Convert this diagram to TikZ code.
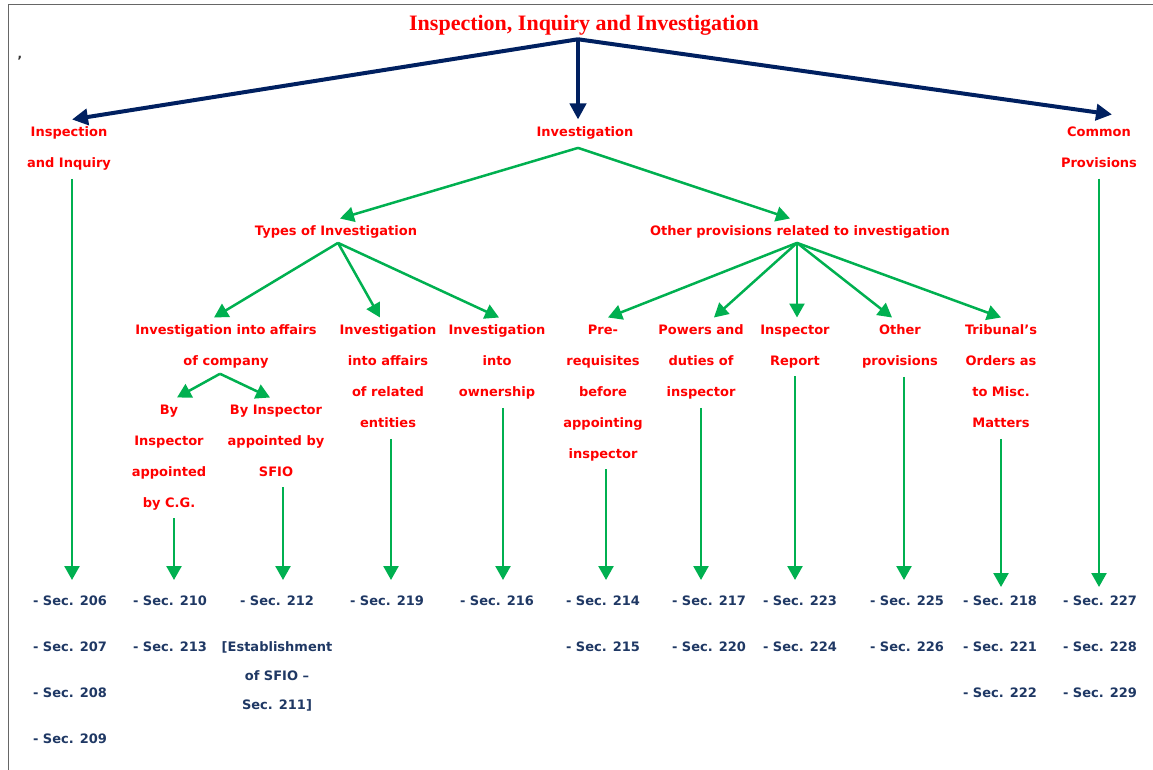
\documentclass[tikz,border=0pt]{standalone}
\usepackage{fontspec}
\setmainfont{DejaVu Sans}
\newfontfamily\titlefont{Liberation Serif}
\usetikzlibrary{arrows.meta}
\definecolor{lred}{HTML}{FF0000}
\definecolor{lgreen}{HTML}{00B050}
\definecolor{lnavy}{HTML}{002060}
\definecolor{secblue}{HTML}{1F3864}
\newcommand{\lstrut}{\rule[-4pt]{0pt}{14pt}}
\begin{document}
\begin{tikzpicture}[x=1pt,y=-1pt,
  lbl/.style={anchor=north, align=center, text=lred, font=\fontsize{13}{31}\selectfont\bfseries, inner xsep=1pt, inner ysep=7pt, execute at begin node=\lstrut, execute at end node=\lstrut},
  sec/.style={anchor=north, align=center, text=secblue, font=\fontsize{13}{46}\selectfont\bfseries, inner xsep=1pt, inner ysep=15.5pt},
  garrow/.style={draw=lgreen, line width=2.5pt, -{Triangle[length=14pt,width=15pt]}},
  narrowx/.style={draw=lnavy, line width=4pt, -{Triangle[length=16pt,width=16pt]}},
  framel/.style={draw=black!60, line width=1pt}]
\useasboundingbox (0,0) rectangle (1153,770);
\draw[framel] (8,770) -- (8,5) -- (1153,5);
\node[font=\fontsize{12}{12}\selectfont\bfseries, text=black!80, inner sep=0] (comma) at (20,58) {,};

% title
\node[font=\titlefont\fontsize{22}{26}\selectfont\bfseries, text=lred, inner sep=0] (title) at (584,25) {Inspection, Inquiry and Investigation};
\coordinate (hub) at ([xshift=-6pt,yshift=-4pt]title.south);

% level 1
\node[lbl] (insp) at (69,119.5) {Inspection\\and Inquiry};
\node[lbl] (inv) at (585,119.5) {Investigation};
\node[lbl] (common) at (1099,119.5) {Common\\Provisions};

% level 2
\node[lbl] (types) at (336,218.5) {Types of Investigation};
\node[lbl] (other) at (800,218.5) {Other provisions related to investigation};

% level 3
\node[lbl] (company) at (226,317.5) {Investigation into affairs\\of company};
\node[lbl] (entities) at (388,317.5) {Investigation\\into affairs\\of related\\entities};
\node[lbl] (owner) at (497,317.5) {Investigation\\into\\ownership};
\node[lbl] (prereq) at (603,317.5) {Pre-\\requisites\\before\\appointing\\inspector};
\node[lbl] (powers) at (701,317.5) {Powers and\\duties of\\inspector};
\node[lbl] (report) at (795,317.5) {Inspector\\Report};
\node[lbl] (otherprov) at (900,317.5) {Other\\provisions};
\node[lbl] (tribunal) at (1001,317.5) {Tribunal’s\\Orders as\\to Misc.\\Matters};

% level 4
\node[lbl] (cg) at (169,397.5) {By\\Inspector\\appointed\\by C.G.};
\node[lbl] (sfio) at (276,397.5) {By Inspector\\appointed by\\SFIO};

% sections
\node[sec] (s1) at (70,580) {- Sec. 206\\- Sec. 207\\- Sec. 208\\- Sec. 209};
\node[sec] (s2) at (170,580) {- Sec. 210\\- Sec. 213};
\node[sec] (s3) at (277,580) {- Sec. 212\\{[}Establishment\\[-17pt]of SFIO –\\[-17pt]Sec. 211]};
\node[sec] (s4) at (387,580) {- Sec. 219};
\node[sec] (s5) at (497,580) {- Sec. 216};
\node[sec] (s6) at (603,580) {- Sec. 214\\- Sec. 215};
\node[sec] (s7) at (709,580) {- Sec. 217\\- Sec. 220};
\node[sec] (s8) at (800,580) {- Sec. 223\\- Sec. 224};
\node[sec] (s9) at (907,580) {- Sec. 225\\- Sec. 226};
\node[sec] (s10) at (1000,580) {- Sec. 218\\- Sec. 221\\- Sec. 222};
\node[sec] (s11) at (1100,580) {- Sec. 227\\- Sec. 228\\- Sec. 229};

% navy arrows
\draw[narrowx] (hub) -- ([xshift=3pt]insp.north);
\draw[narrowx] (hub) -- (hub |- inv.north);
\draw[narrowx] (hub) -- ([xshift=13pt,yshift=5pt]common.north);

% green arrows
\coordinate (invs) at ([xshift=-7pt]inv.south);
\coordinate (types0) at ([xshift=2pt,yshift=4pt]types.south);
\coordinate (other0) at ([xshift=-3pt,yshift=4pt]other.south);
\draw[garrow] (invs) -- ([xshift=4pt]types.north);
\draw[garrow] (invs) -- ([xshift=-10pt]other.north);
\draw[garrow] (types0) -- ([xshift=-12pt]company.north);
\draw[garrow] (types0) -- ([xshift=-8pt]entities.north);
\draw[garrow] (types0) -- ([xshift=2pt]owner.north);
\draw[garrow] (other0) -- ([xshift=5pt]prereq.north);
\draw[garrow] (other0) -- ([xshift=13pt]powers.north);
\draw[garrow] (other0) -- (other0 |- report.north);
\draw[garrow] (other0) -- ([xshift=-8pt]otherprov.north);
\draw[garrow] (other0) -- (tribunal.north);
\draw[garrow] ([xshift=-6pt,yshift=3pt]company.south) -- ([xshift=8pt]cg.north);
\draw[garrow] ([xshift=-6pt,yshift=3pt]company.south) -- ([xshift=-6pt]sfio.north);

% vertical arrows
\draw[garrow] ([xshift=3pt]insp.south) -- ([xshift=3pt]insp.south |- s1.north);
\draw[garrow] ([xshift=5pt]cg.south) -- ([xshift=5pt]cg.south |- s2.north);
\draw[garrow] ([xshift=7pt]sfio.south) -- ([xshift=7pt]sfio.south |- s3.north);
\draw[garrow] ([xshift=3pt]entities.south) -- ([xshift=3pt]entities.south |- s4.north);
\draw[garrow] ([xshift=6pt]owner.south) -- ([xshift=6pt]owner.south |- s5.north);
\draw[garrow] ([xshift=3pt]prereq.south) -- ([xshift=3pt]prereq.south |- s6.north);
\draw[garrow] (powers.south) -- (powers.south |- s7.north);
\draw[garrow] (report.south) -- (report.south |- s8.north);
\draw[garrow] ([xshift=4pt]otherprov.south) -- ([xshift=4pt]otherprov.south |- s9.north);
\draw[garrow, shorten >=-7pt] (tribunal.south) -- (tribunal.south |- s10.north);
\draw[garrow, shorten >=-7pt] (common.south) -- (common.south |- s11.north);
\end{tikzpicture}
\end{document}
